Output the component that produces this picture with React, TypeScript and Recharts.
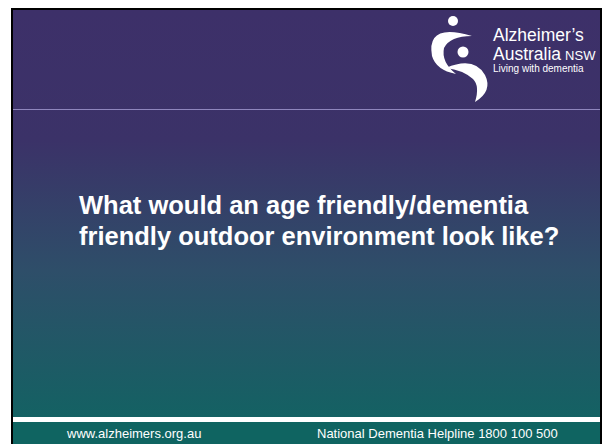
import React from "react";
import { ComposedChart, Customized, XAxis, YAxis } from "recharts";

const titleLines = ["What would an age friendly/dementia", "friendly outdoor environment look like?"];
const logoLines = ["Alzheimer\u2019s", "Australia", "NSW", "Living with dementia"];
const footerTexts = ["www.alzheimers.org.au", "National Dementia Helpline 1800 100 500"];
const placeholder = [{ k: 0 }];

const FONT = "'Liberation Sans', Arial, Helvetica, sans-serif";

const Slide = () => (
  <g>
    <defs>
      <linearGradient id="bg" x1="0" y1="0" x2="0" y2="1">
        <stop offset="0%" stopColor="#3d3069" />
        <stop offset="30%" stopColor="#3b3268" />
        <stop offset="60%" stopColor="#2e4e69" />
        <stop offset="100%" stopColor="#0f6562" />
      </linearGradient>
    </defs>
    <rect x={0} y={0} width={602} height={444} fill="#ffffff" />
    <rect x={11} y={8} width={591} height={436} fill="#000000" />
    <rect x={13} y={10} width={587} height={434} fill="url(#bg)" />
    <rect x={13} y={417} width={587} height={27} fill="#0f6461" />
    <rect x={13} y={417} width={587} height={5} fill="#ffffff" />
    <line x1={13} x2={600} y1={109.5} y2={109.5} stroke="#8f86bd" strokeWidth={1} />
    {/* logo figure */}
    <circle cx={453} cy={21} r={5} fill="#ffffff" />
    <circle cx={463} cy={52} r={5.5} fill="#ffffff" />
    <path d="M 472 36 Q 426 22 432 56 Q 436 70 456 74 Q 441 62 444 48 Q 450 36 472 36 Z" fill="#ffffff" />
    <path d="M 446 68 Q 474 56 485 75 Q 493 91 475 102 Q 480 86 473 79 Q 463 70 446 68 Z" fill="#ffffff" />
    <text x={493} y={41} fill="#ffffff" fontFamily={FONT} fontSize={17.5}>{logoLines[0]}</text>
    <text x={493} y={60} fill="#ffffff" fontFamily={FONT} fontSize={17.5}>
      {logoLines[1]}
      <tspan fontSize={13} dx={4}>{logoLines[2]}</tspan>
    </text>
    <text x={493} y={72} fill="#ffffff" fontFamily={FONT} fontSize={10}>{logoLines[3]}</text>
    {titleLines.map((t, i) => (
      <text key={i} x={79} y={214 + i * 31} fill="#ffffff" fontFamily={FONT} fontWeight="bold" fontSize={25.5}>{t}</text>
    ))}
    <text x={67} y={438} fill="#ffffff" fontFamily={FONT} fontSize={13}>{footerTexts[0]}</text>
    <text x={317} y={438} fill="#ffffff" fontFamily={FONT} fontSize={13}>{footerTexts[1]}</text>
  </g>
);

export default function App() {
  return (
    <div style={{ position: "absolute", left: 0, top: 0, width: 602, height: 444 }}>
      <ComposedChart width={602} height={444} data={placeholder} margin={{ top: 0, right: 0, bottom: 0, left: 0 }}>
        <XAxis dataKey="k" hide />
        <YAxis hide />
        <Customized component={Slide} />
      </ComposedChart>
    </div>
  );
}
